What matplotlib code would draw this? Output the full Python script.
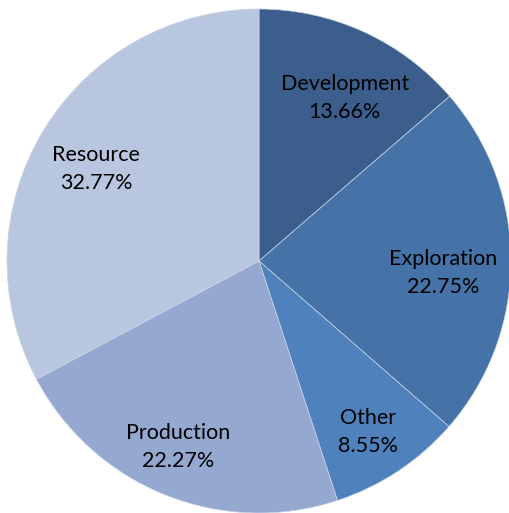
import numpy as np
import matplotlib
matplotlib.use("Agg")
import matplotlib.pyplot as plt

categories = ["Development", "Exploration", "Other", "Production", "Resource"]
shares = [13.66, 22.75, 8.55, 22.27, 32.77]
colors = ["#3B5E8C", "#4572A7", "#4F81BD", "#95A8CF", "#B9C6E0"]
# label placement: fraction of radius and angle nudge (deg) from wedge middle
label_r = [0.731, 0.732, 0.806, 0.804, 0.743]
label_dang = [-3.2, -3.5, -1.1, -1.5, 1.6]

plt.rcParams["font.family"] = ["Lato", "DejaVu Sans"]

fig = plt.figure(figsize=(5.09, 5.13), dpi=100)
W, H = 509, 513
cx, cy, r = 259, 261, 252
ax = fig.add_axes([(cx - r) / W, 1 - (cy + r) / H, 2 * r / W, 2 * r / H])

wedges, _ = ax.pie(
    shares,
    colors=colors,
    startangle=90,
    counterclock=False,
    radius=1.0,
    wedgeprops={"edgecolor": "#c9d4e6", "linewidth": 0.5},
)
for w, c, s, lr, da in zip(wedges, categories, shares, label_r, label_dang):
    mid = np.deg2rad((w.theta1 + w.theta2) / 2 + da)
    ax.text(lr * np.cos(mid), lr * np.sin(mid), f"{c}\n{s:.2f}%",
            ha="center", va="center", multialignment="center",
            fontsize=15.5, linespacing=1.5, color="black")
ax.set_xlim(-1, 1)
ax.set_ylim(-1, 1)
ax.set_aspect("auto")

fig.savefig("out.png", dpi=100)
